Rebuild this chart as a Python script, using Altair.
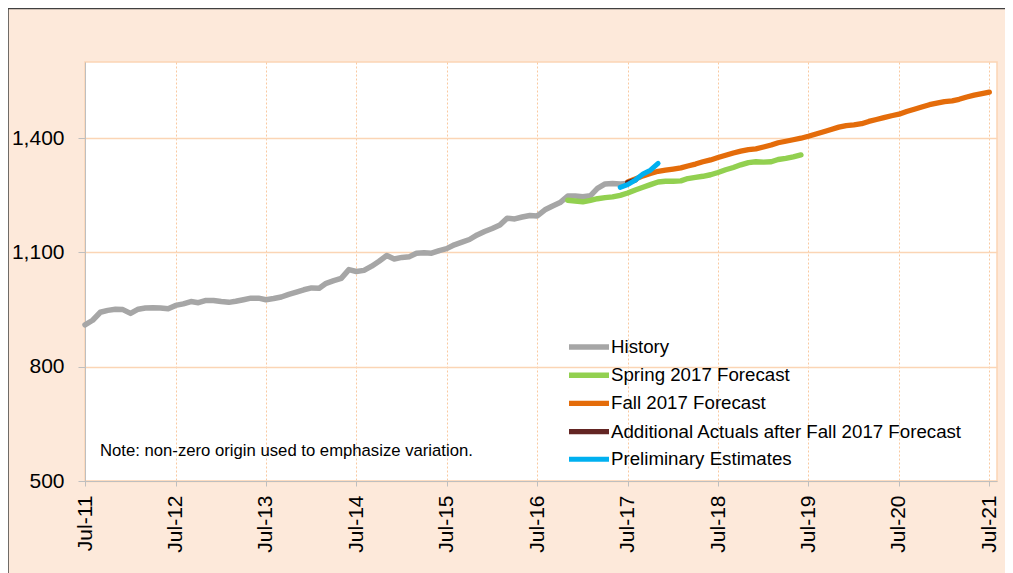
import altair as alt
import pandas as pd

series_names = ["History", "Spring 2017 Forecast", "Fall 2017 Forecast",
                "Additional Actuals after Fall 2017 Forecast", "Preliminary Estimates"]
series_colors = ["#A6A6A6", "#92D050", "#E46C0A", "#632523", "#00B0F0"]
series_widths = [5.5, 5, 4, 4, 3.5]

# monthly values
history_start = "2011-07-01"
history_values = [910, 922, 943, 948, 951, 950, 940, 951, 954, 955, 954, 952,
                  961, 965, 971, 968, 974, 974, 971, 969, 972, 976, 980, 980,
                  976, 979, 983, 990, 996, 1002, 1007, 1006, 1019, 1026, 1032, 1055,
                  1050, 1053, 1064, 1077, 1092, 1083, 1087, 1089, 1098, 1099, 1098, 1105,
                  1110, 1120, 1127, 1134, 1146, 1155, 1163, 1172, 1190, 1188, 1193, 1197,
                  1196, 1212, 1222, 1231, 1248, 1248, 1246, 1249, 1268, 1280, 1281, 1280,
                  1281]
spring_start = "2016-11-01"
spring_values = [1237, 1235, 1233, 1237, 1241, 1244, 1246, 1250, 1256, 1264, 1271, 1278,
                 1285, 1287, 1287, 1288, 1294, 1297, 1300, 1304, 1310, 1317, 1323, 1330,
                 1336, 1338, 1337, 1338, 1344, 1347, 1351, 1356]
fall_start = "2017-07-01"
fall_values = [1285, 1293, 1301, 1307, 1313, 1316, 1319, 1322, 1327, 1332, 1338, 1343,
               1349, 1355, 1361, 1366, 1370, 1372, 1377, 1382, 1388, 1392, 1396, 1400,
               1405, 1411, 1417, 1423, 1429, 1433, 1435, 1438, 1444, 1449, 1454, 1459,
               1463, 1470, 1476, 1482, 1488, 1492, 1496, 1498, 1502, 1508, 1513, 1517,
               1521]
actual_start = "2017-07-01"
actual_values = [1283, 1290]
prelim_start = "2017-06-01"
prelim_values = [1271, 1278, 1290, 1306, 1316, 1334]

note_text = "Note: non-zero origin used to emphasize variation."
tick_years = list(range(2011, 2022))

frames = []
for name, start, vals in zip(series_names,
                             [history_start, spring_start, fall_start, actual_start, prelim_start],
                             [history_values, spring_values, fall_values, actual_values, prelim_values]):
    frames.append(pd.DataFrame({
        "date": pd.date_range(start, periods=len(vals), freq="MS"),
        "value": vals,
        "series": name,
    }))
df = pd.concat(frames, ignore_index=True)

FONT = "Liberation Sans"
PEACH_GRID = "#FBD5B5"

x_enc = alt.X(
    "date:T",
    scale=alt.Scale(domain=[alt.DateTime(year=2011, month=7, date=1),
                            alt.DateTime(year=2021, month=8, date=1)]),
    axis=alt.Axis(
        title=None,
        values=[alt.DateTime(year=y, month=7, date=1) for y in tick_years],
        format="%b-%y", labelAngle=-90, labelFontSize=21, labelFont=FONT,
        labelColor="#000000", labelPadding=9, tickSize=5, tickColor="#BFBFBF",
        domainColor="#BFBFBF", gridColor="#F9C9A0", gridDash=[2, 2], gridWidth=1,
        labelOverlap=False, labelFlush=False,
    ),
)
y_enc = alt.Y(
    "value:Q",
    scale=alt.Scale(domain=[500, 1600], nice=False, zero=False),
    axis=alt.Axis(
        title=None, values=[500, 800, 1100, 1400], format=",.0f",
        labelFontSize=21, labelFont=FONT, labelColor="#000000",
        labelPadding=14, tickSize=7, tickColor="#BFBFBF", domainColor="#BFBFBF",
        gridColor=PEACH_GRID, gridWidth=1.5,
    ),
)

legend = alt.Legend(
    title=None, orient="none", legendX=491, legendY=272,
    symbolType="M-2,0L2,0", symbolSize=400, labelFont=FONT, labelFontSize=18.7,
    labelColor="#000000", labelOffset=9, rowPadding=4.2, padding=0, labelLimit=600,
)

lines = alt.Chart(df).mark_line(strokeJoin="round", strokeCap="round").encode(
    x=x_enc,
    y=y_enc,
    color=alt.Color("series:N", scale=alt.Scale(domain=series_names, range=series_colors),
                    legend=legend, sort=series_names),
    strokeWidth=alt.StrokeWidth("series:N", scale=alt.Scale(domain=series_names, range=series_widths),
                                legend=legend, sort=series_names),
)

note = alt.Chart(pd.DataFrame({"note": [note_text]})).mark_text(
    align="left", baseline="middle", fontSize=16.7, font=FONT, color="#000000"
).encode(x=alt.value(15), y=alt.value(389), text="note:N")

border_df = pd.DataFrame({"k": [0]})
top_border = alt.Chart(border_df).mark_rule(color="#404040", strokeWidth=1.5).encode(
    x=alt.value(-77), x2=alt.value(1000), y=alt.value(-53.5))
left_border = alt.Chart(border_df).mark_rule(color="#404040", strokeWidth=1.5).encode(
    x=alt.value(-77), y=alt.value(-54), y2=alt.value(600))

chart = alt.layer(lines, note, top_border, left_border).properties(
    width=912, height=419,
    autosize=alt.AutoSizeParams(type="none"),
    padding={"left": 77, "top": 54, "right": 8, "bottom": 92},
    background="#FDE9DA",
).configure_view(
    stroke=PEACH_GRID, strokeWidth=1.5, fill="#FFFFFF",
)

chart.save("out.html", embed_options={"renderer": "svg", "actions": False})
